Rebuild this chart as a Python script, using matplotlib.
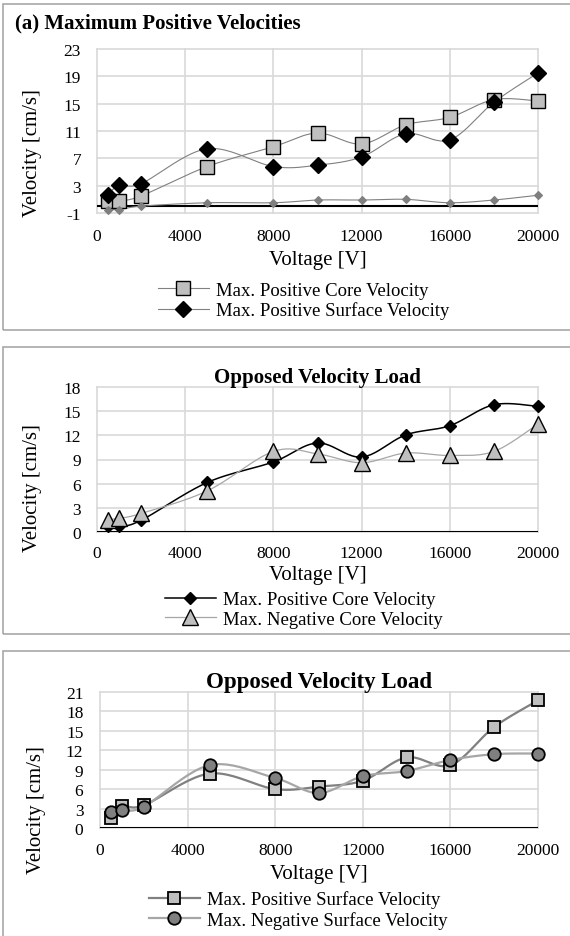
import numpy as np
import matplotlib
matplotlib.use("Agg")
import matplotlib.pyplot as plt
from matplotlib.patches import Rectangle

plt.rcParams['font.family'] = ['Liberation Serif', 'DejaVu Serif']
plt.rcParams['axes.unicode_minus'] = False

# voltage steps shared by every chart
voltage = [500, 1000, 2000, 5000, 8000, 10000, 12000, 14000, 16000, 18000, 20000]

# (a) maximum positive velocities [cm/s]
pos_core = [0.7, 0.8, 1.5, 5.8, 8.7, 10.7, 9.1, 11.9, 13.0, 15.6, 15.4]
pos_surface = [1.6, 3.1, 3.3, 8.4, 5.8, 6.0, 7.2, 10.6, 9.7, 15.2, 19.5]
pos_low = [-0.5, -0.5, 0.0, 0.5, 0.5, 0.9, 0.9, 1.0, 0.5, 0.9, 1.6]

# opposed load, core
opp_pos_core = [0.75, 0.7, 1.45, 6.15, 8.7, 11.05, 9.3, 12.05, 13.2, 15.8, 15.6]
opp_neg_core = [1.5, 1.7, 2.3, 5.1, 10.0, 9.7, 8.6, 9.8, 9.5, 10.0, 13.4]

# opposed load, surface
opp_pos_surf = [1.6, 3.4, 3.5, 8.4, 6.0, 6.4, 7.3, 10.9, 9.7, 15.6, 19.7]
opp_neg_surf = [2.4, 2.8, 3.3, 9.7, 7.7, 5.4, 8.0, 8.8, 10.5, 11.4, 11.5]

x_ticks = [0, 4000, 8000, 12000, 16000, 20000]

W, H = 570, 937
fig = plt.figure(figsize=(W / 100, H / 100), dpi=100)


def add_px_axes(l, t, r, b):
    return fig.add_axes([l / W, 1 - b / H, (r - l) / W, (b - t) / H])


def frame(t, b):
    fig.patches.append(Rectangle((3 / W, 1 - b / H), 1.0, (b - t) / H,
                                 transform=fig.transFigure, fill=False,
                                 edgecolor='#a0a0a0', lw=1.1))


def smooth(ax, x, y, n=24):
    # excel-style smoothed line, bezier controls built in screen space
    pts = ax.transData.transform(np.column_stack([x, y]))
    out = [pts[0]]
    t = np.linspace(0, 1, n)[1:, None]
    for i in range(len(pts) - 1):
        p0 = pts[max(i - 1, 0)]
        p1, p2 = pts[i], pts[i + 1]
        p3 = pts[min(i + 2, len(pts) - 1)]
        c1 = p1 + (p2 - p0) / 6
        c2 = p2 - (p3 - p1) / 6
        seg = ((1 - t) ** 3 * p1 + 3 * (1 - t) ** 2 * t * c1
               + 3 * (1 - t) * t ** 2 * c2 + t ** 3 * p2)
        out.extend(seg)
    xy = ax.transData.inverted().transform(np.array(out))
    return xy[:, 0], xy[:, 1]


def style_axes(ax, ymin, ymax, ystep, xpad, ypad):
    ax.set_xlim(0, 20000)
    ax.set_ylim(ymin, ymax)
    ax.set_xticks(x_ticks)
    ax.set_yticks(np.arange(ymin, ymax + 0.1, ystep))
    ax.grid(True, color='#d9d9d9', lw=1.2, clip_on=False)
    ax.set_axisbelow(True)
    for s in ax.spines.values():
        s.set_visible(False)
    ax.tick_params(length=0, labelsize=12.5)
    ax.tick_params(axis='x', pad=xpad)
    ax.tick_params(axis='y', pad=ypad)
    ax.axhline(0, color='black', lw=1.5, zorder=2)


def series(ax, y, label, **kw):
    line_kw = dict(color=kw.pop('color'), lw=kw.pop('lw'))
    sx, sy = smooth(ax, voltage, y)
    ax.plot(sx, sy, clip_on=False, zorder=3, **line_kw)
    ax.plot(voltage, y, ls='none', clip_on=False, zorder=4, **kw)
    return plt.Line2D([], [], label=label, **line_kw, **kw)


def labels(ax, xlab_y, ylab_x, ylab_y, box):
    l, t, r, b = box
    ax.set_xlabel('Voltage [V]', fontsize=15)
    ax.set_ylabel('Velocity [cm/s]', fontsize=15)
    ax.xaxis.label.set_va('center')
    ax.yaxis.label.set_va('center')
    ax.xaxis.set_label_coords(0.5, (b - xlab_y) / (b - t))
    ax.yaxis.set_label_coords((ylab_x - l) / (r - l), (b - ylab_y) / (b - t))


def legend(handles, x, y_mid):
    fig.legend(handles=handles, loc='center left',
               bbox_to_anchor=(x / W, 1 - y_mid / H), frameon=False,
               fontsize=13.5, borderpad=0, borderaxespad=0, handlelength=2.7,
               handletextpad=0.4, labelspacing=0.15, numpoints=1)


# ---- (a) maximum positive velocities
frame(5, 331)
box = (97, 50, 538, 214)
ax1 = add_px_axes(*box)
style_axes(ax1, -1, 23, 4, 10.5, 11.5)
h1 = series(ax1, pos_core, 'Max. Positive Core Velocity', color='#808080', lw=0.8,
            marker='s', ms=10, mfc='#bfbfbf', mec='black', mew=1.0)
h2 = series(ax1, pos_surface, 'Max. Positive Surface Velocity', color='#808080', lw=0.8,
            marker='D', ms=7.8, mfc='black', mec='black', mew=1.0)
series(ax1, pos_low, None, color='#808080', lw=0.8,
       marker='D', ms=4.5, mfc='#7f7f7f', mec='#7f7f7f', mew=0.8)
labels(ax1, 261, 33, 153, box)
fig.text(15 / W, 1 - 23 / H, '(a) Maximum Positive Velocities', fontsize=15,
         fontweight='bold', va='center', ha='left')
legend([h1, h2], 158, 301.5)

# ---- opposed load, core
frame(348, 635)
box = (97, 388, 538, 533)
ax2 = add_px_axes(*box)
style_axes(ax2, 0, 18, 3, 9.7, 11.5)
h1 = series(ax2, opp_pos_core, 'Max. Positive Core Velocity', color='black', lw=1.1,
            marker='D', ms=6.4, mfc='black', mec='black', mew=1.0)
h2 = series(ax2, opp_neg_core, 'Max. Negative Core Velocity', color='#a6a6a6', lw=0.9,
            marker='^', ms=11, mfc='#bfbfbf', mec='black', mew=1.0)
labels(ax2, 576, 33, 488, box)
ax2.set_title('Opposed Velocity Load', fontsize=15, fontweight='bold', pad=1)
legend([h1, h2], 165, 610.5)

# ---- opposed load, surface
frame(652, 1000)
box = (100, 693, 538, 829)
ax3 = add_px_axes(*box)
style_axes(ax3, 0, 21, 3, 10.4, 12)
h1 = series(ax3, opp_pos_surf, 'Max. Positive Surface Velocity', color='#808080', lw=1.6,
            marker='s', ms=9, mfc='#bfbfbf', mec='black', mew=1.3)
h2 = series(ax3, opp_neg_surf, 'Max. Negative Surface Velocity', color='#a6a6a6', lw=1.6,
            marker='o', ms=9, mfc='#808080', mec='black', mew=1.3)
labels(ax3, 875, 37, 810, box)
ax3.set_title('Opposed Velocity Load', fontsize=16.5, fontweight='bold', pad=1)
legend([h1, h2], 149, 910.5)

fig.savefig('out.png', dpi=100)
